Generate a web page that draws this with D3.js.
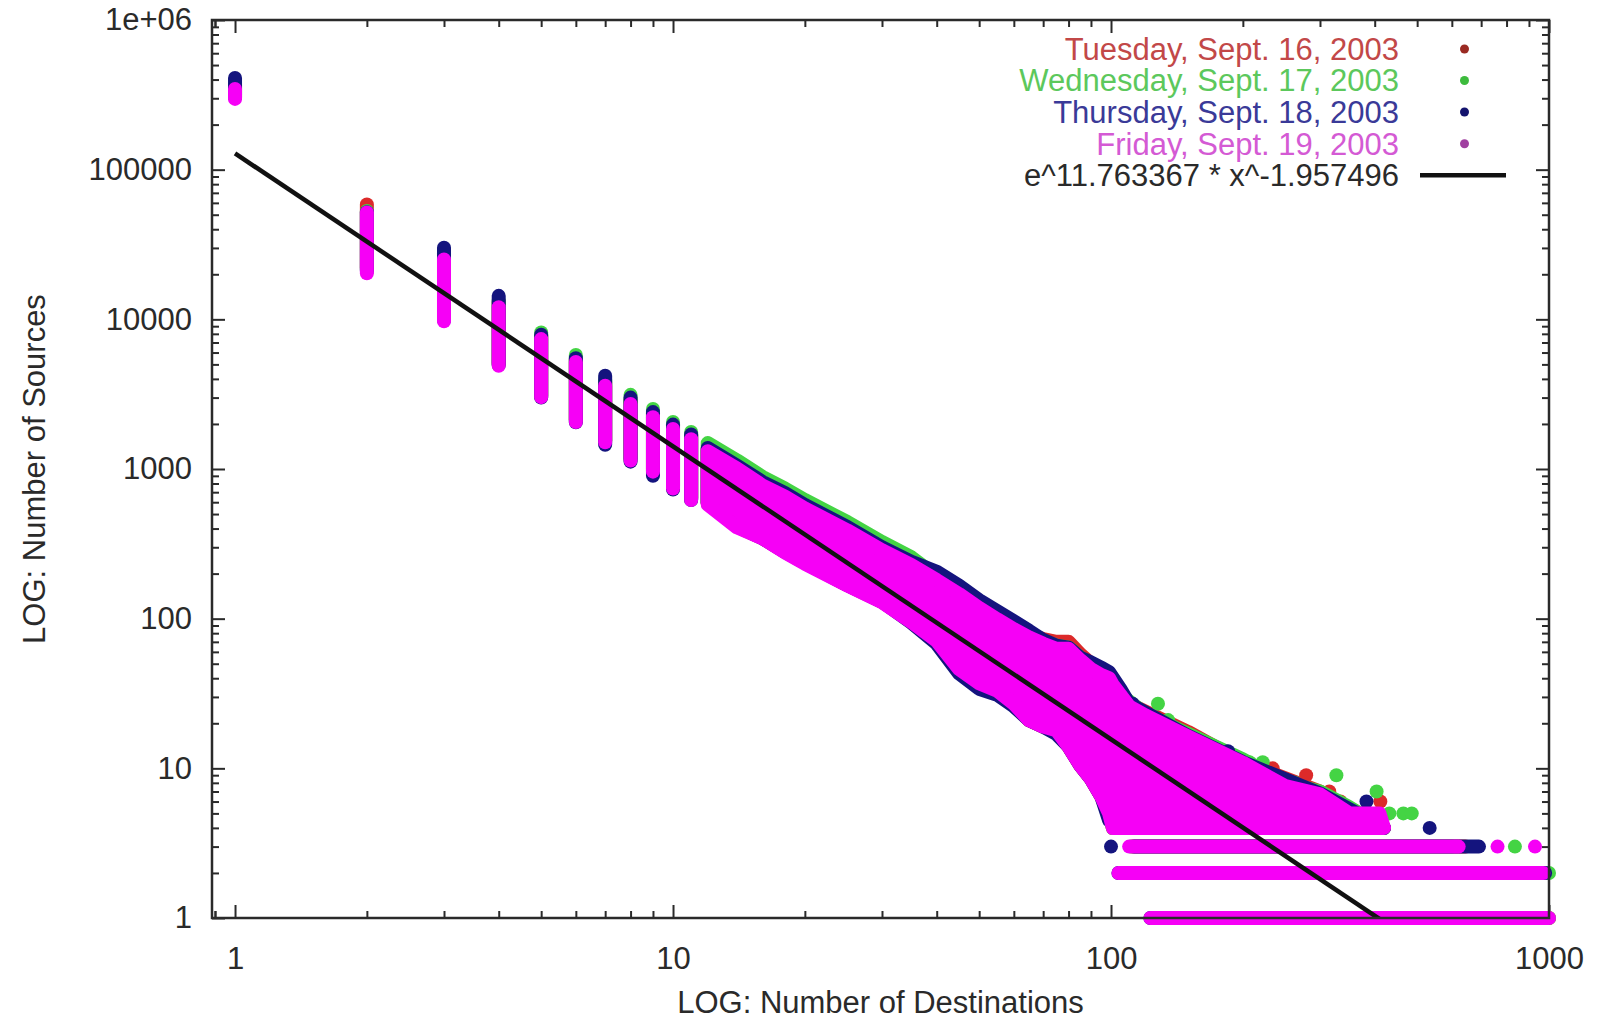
<!DOCTYPE html>
<html><head><meta charset="utf-8">
<script src="https://cdn.jsdelivr.net/npm/d3@7"></script>
<style>
html,body{margin:0;padding:0;background:#fff;}
svg{display:block;}
text{font-family:"Liberation Sans",Arial,Helvetica,sans-serif;}
</style></head><body>
<svg id="chart" width="1598" height="1019"></svg>
<script>
// ---------- data ----------
const days = ["Tuesday, Sept. 16, 2003", "Wednesday, Sept. 17, 2003", "Thursday, Sept. 18, 2003", "Friday, Sept. 19, 2003"];
const fitLabel = "e^11.763367 * x^-1.957496";
const fitLogA = 11.763367;
const fitExp = -1.957496;
const fitXRange = [1, 1000];

const xTickValues = [1, 10, 100, 1000];
const xTickLabels = ["1", "10", "100", "1000"];
const yTickValues = [1, 10, 100, 1000, 10000, 100000, 1000000];
const yTickLabels = ["1", "10", "100", "1000", "10000", "100000", "1e+06"];
const xAxisTitle = "LOG: Number of Destinations";
const yAxisTitle = "LOG: Number of Sources";

// vertical streaks: [destinations, lowest sources, highest sources]
const tueStreaks = [[1,310000,365000],[2,22000,58500],[3,10500,27000],[4,5100,13000],[5,3100,7700],[6,2150,5400],[7,1550,3800],[8,1180,2900],[9,1000,2350],[10,780,1950],[11,640,1680]];
const wedStreaks = [[1,315000,370000],[2,21500,53000],[3,10200,27500],[4,5000,13200],[5,3050,8180],[6,2100,5780],[7,1540,3950],[8,1160,3130],[9,980,2520],[10,760,2060],[11,630,1770]];
const thuStreaks = [[1,305000,410000],[2,21000,52000],[3,9900,30100],[4,4950,14350],[5,3000,7900],[6,2050,5500],[7,1450,4200],[8,1120,3000],[9,900,2400],[10,730,1980],[11,620,1700]];
const friStreaks = [[1,297000,346000],[2,20300,51700],[3,9720,25100],[4,4900,12050],[5,3020,7380],[6,2060,5190],[7,1510,3600],[8,1140,2720],[9,960,2220],[10,741,1850],[11,620,1580]];

// dense region: [destinations, lowest sources, highest sources]
const tueBand = [[12,590,1350],[14,412,1040],[16,346,800],[18,280,680],[20,236,565],[25,168,405],[30,130,295],[35,96,236],[40,72,186],[45,47,150],[50,38,121],[55,34,102],[60,27,88],[65,21,79],[70,19,73],[75,18,70],[80,14,70],[85,10.5,58],[90,8.5,50],[95,6.5,44],[99,5,41],[101,4,36],[110,4,27],[150,4,17.5],[200,4,11],[300,4,7],[420,4,4]];
const wedBand = [[12,600,1490],[14,420,1140],[16,350,885],[18,285,740],[20,240,620],[25,170,442],[30,132,325],[35,98,257],[40,74,192],[45,50,154],[50,40,124],[55,35,105],[60,28,92],[65,22,80],[70,20,71],[75,18,66],[80,15,64],[85,11,55],[90,9,47],[95,7,43],[99,5,40],[101,4,35],[110,4,28],[120,4,23],[150,4,17],[200,4,11.5],[250,4,8],[300,4,7],[350,4,5.5],[420,4,4]];
const thuBand = [[12,590,1380],[14,415,1050],[16,345,820],[18,280,690],[20,236,575],[25,168,410],[30,130,300],[35,94,240],[40,68,206],[45,43,166],[50,34,133],[55,31,112],[60,26,96],[65,21,83],[70,19,72],[75,17,66],[80,14,64],[85,10.5,55],[90,8.5,51],[95,6.5,47],[99,4.5,44],[105,4,34],[110,4,27],[150,4,16.5],[200,4,11],[300,4,6.8],[420,4,4]];
const friBand = [[12,580,1316],[14,407,1007],[16,344,776],[18,277,655],[20,233,545],[25,167,389],[30,129,286],[35,95,228],[40,71,181],[45,46,146],[50,37,118],[55,33,99],[60,27,85],[65,21,75],[70,19,68],[75,18,63],[80,14,63],[85,10.5,53],[90,8.5,46],[95,6.5,42],[99,5,40],[101,4,36],[110,4,26],[120,4,22.5],[150,4,16.3],[200,4,10.9],[250,4,7.6],[300,4,6.7],[350,4,5],[410,4,5],[420,4,4]];

// horizontal runs of points: [sources, first destinations, last destinations]
const tueRows = [[3,112,645],[2,105,990],[1,124,1000]];
const wedRows = [[3,111,600],[2,106,1000],[1,125,1000]];
const thuRows = [[3,113,692],[2,104,980],[1,123,990]];
const friRows = [[3,110,622],[2,104,971],[1,123,1000]];

// isolated points: [destinations, sources]
const tuePoints = [[152,17],[162,14],[234,10],[279,9],[315,7],[334,6],[412,6]];
const wedPoints = [[128,27],[135,21],[207,11],[222,11],[263,8],[327,9],[404,7],[432,5],[465,5],[486,5],[836,3]];
const thuPoints = [[112,27],[150,16],[185,13],[243,7],[299,6],[321,5],[383,6],[534,4],[100,3]];
const friPoints = [[763,3],[929,3]];

const dataColors = ["#dc2a2a", "#44d444", "#14147e", "#f600f6"];
const legendTextColors = ["#c24848", "#5cc85c", "#3a3a98", "#d45ad4"];
const legendDotColors = ["#9a2a22", "#3dbb3d", "#14146e", "#a040a0"];

// ---------- drawing ----------
const svg = d3.select("#chart");
const L = 212, Rt = 1549, T = 20, B = 918;
const x = d3.scaleLog().domain([0.886, 1000]).range([L, Rt]);
const y = d3.scaleLog().domain([1, 1e6]).range([B, T]);
const R = 7;
const FS = 31;
const ink = "#2a2a2a";

svg.append("rect").attr("width", 1598).attr("height", 1019).attr("fill", "#fff");

// axes ticks (inward, mirrored)
const xMinor = x.ticks().filter(v => !xTickValues.includes(v)).concat([0.9]);
const yMinor = y.ticks().filter(v => !yTickValues.includes(v));

function styleAxis(g) {
  g.select(".domain").remove();
  g.selectAll(".tick line").attr("stroke", ink).attr("stroke-width", 2);
  g.selectAll(".tick text").attr("fill", ink).style("font-size", FS + "px")
    .style("font-family", '"Liberation Sans",Arial,sans-serif');
}
svg.append("g").attr("transform", `translate(0,${B})`)
  .call(d3.axisBottom(x).tickValues(xTickValues).tickSize(-13).tickPadding(29).tickFormat((d, i) => xTickLabels[i])).call(styleAxis);
svg.append("g").attr("transform", `translate(0,${B})`)
  .call(d3.axisBottom(x).tickValues(xMinor).tickSize(-7).tickFormat("")).call(styleAxis);
svg.append("g").attr("transform", `translate(0,${T})`)
  .call(d3.axisTop(x).tickValues(xTickValues).tickSize(-13).tickFormat("")).call(styleAxis);
svg.append("g").attr("transform", `translate(0,${T})`)
  .call(d3.axisTop(x).tickValues(xMinor).tickSize(-7).tickFormat("")).call(styleAxis);
svg.append("g").attr("transform", `translate(${L},0)`)
  .call(d3.axisLeft(y).tickValues(yTickValues).tickSize(-13).tickPadding(20).tickFormat((d, i) => yTickLabels[i])).call(styleAxis);
svg.append("g").attr("transform", `translate(${L},0)`)
  .call(d3.axisLeft(y).tickValues(yMinor).tickSize(-7).tickFormat("")).call(styleAxis);
svg.append("g").attr("transform", `translate(${Rt},0)`)
  .call(d3.axisRight(y).tickValues(yTickValues).tickSize(-13).tickFormat("")).call(styleAxis);
svg.append("g").attr("transform", `translate(${Rt},0)`)
  .call(d3.axisRight(y).tickValues(yMinor).tickSize(-7).tickFormat("")).call(styleAxis);

// data
const series = [
  {color: dataColors[0], streaks: tueStreaks, band: tueBand, rows: tueRows, points: tuePoints},
  {color: dataColors[1], streaks: wedStreaks, band: wedBand, rows: wedRows, points: wedPoints},
  {color: dataColors[2], streaks: thuStreaks, band: thuBand, rows: thuRows, points: thuPoints},
  {color: dataColors[3], streaks: friStreaks, band: friBand, rows: friRows, points: friPoints}
];
const area = d3.area().x(d => x(d[0])).y0(d => y(d[1])).y1(d => y(d[2]));
series.forEach(s => {
  const g = svg.append("g");
  g.selectAll("line.streak").data(s.streaks).join("line").attr("class", "streak")
    .attr("x1", d => x(d[0])).attr("x2", d => x(d[0]))
    .attr("y1", d => y(d[1])).attr("y2", d => y(d[2]))
    .attr("stroke", s.color).attr("stroke-width", 2 * R).attr("stroke-linecap", "round");
  g.append("path").datum(s.band).attr("d", area)
    .attr("fill", s.color).attr("stroke", s.color).attr("stroke-width", 2 * R).attr("stroke-linejoin", "round");
  g.selectAll("line.row").data(s.rows).join("line").attr("class", "row")
    .attr("x1", d => x(d[1])).attr("x2", d => x(d[2]))
    .attr("y1", d => y(d[0])).attr("y2", d => y(d[0]))
    .attr("stroke", s.color).attr("stroke-width", 2 * R).attr("stroke-linecap", "round");
  g.selectAll("circle").data(s.points).join("circle")
    .attr("cx", d => x(d[0])).attr("cy", d => y(d[1])).attr("r", R).attr("fill", s.color);
});

// fit line
svg.append("clipPath").attr("id", "plotclip").append("rect")
  .attr("x", L).attr("y", T).attr("width", Rt - L).attr("height", B - T);
const fitPts = fitXRange.map(v => [v, Math.exp(fitLogA) * Math.pow(v, fitExp)]);
svg.append("path").datum(fitPts).attr("clip-path", "url(#plotclip)")
  .attr("d", d3.line().x(d => x(d[0])).y(d => y(d[1])))
  .attr("fill", "none").attr("stroke", "#111").attr("stroke-width", 4.5);

// frame
svg.append("rect").attr("x", L).attr("y", T).attr("width", Rt - L).attr("height", B - T)
  .attr("fill", "none").attr("stroke", ink).attr("stroke-width", 2.5);

// legend
const legRows = [49, 80.5, 112, 143.7];
const legG = svg.append("g");
days.forEach((name, i) => {
  legG.append("text").attr("x", 1399).attr("y", legRows[i]).attr("dy", "0.35em")
    .attr("text-anchor", "end").attr("fill", legendTextColors[i]).style("font-size", FS + "px").text(name);
  legG.append("circle").attr("cx", 1464.5).attr("cy", legRows[i]).attr("r", 4.5).attr("fill", legendDotColors[i]);
});
legG.append("text").attr("x", 1399).attr("y", 175.3).attr("dy", "0.35em")
  .attr("text-anchor", "end").attr("fill", ink).style("font-size", FS + "px").text(fitLabel);
legG.append("line").attr("x1", 1420).attr("x2", 1506).attr("y1", 175.3).attr("y2", 175.3)
  .attr("stroke", "#111").attr("stroke-width", 4.5);

// axis titles
svg.append("text").attr("x", (L + Rt) / 2).attr("y", 1002).attr("dy", "0.35em")
  .attr("text-anchor", "middle").attr("fill", ink).style("font-size", FS + "px").text(xAxisTitle);
svg.append("text").attr("transform", `translate(34,${(T + B) / 2}) rotate(-90)`).attr("dy", "0.35em")
  .attr("text-anchor", "middle").attr("fill", ink).style("font-size", FS + "px").text(yAxisTitle);
</script>
</body></html>
